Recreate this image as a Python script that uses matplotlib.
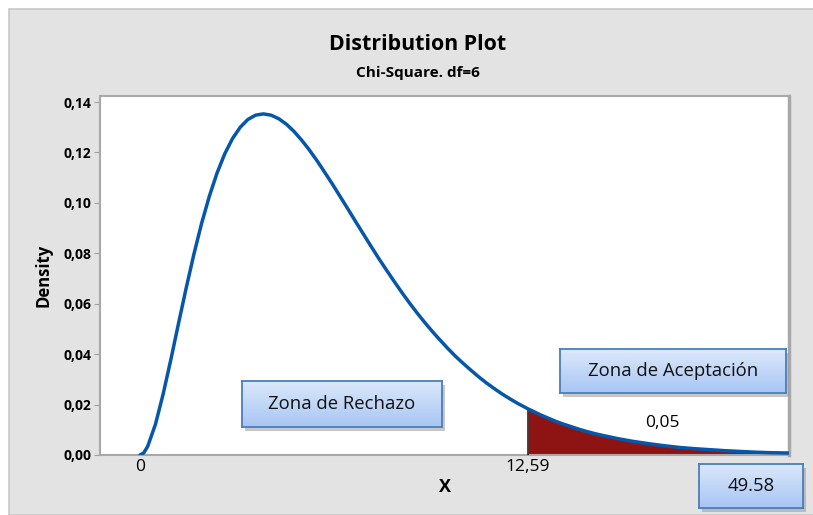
import matplotlib
matplotlib.use("Agg")
import matplotlib.pyplot as plt
import numpy as np
from matplotlib.patches import Rectangle
from matplotlib.ticker import FuncFormatter
from matplotlib.colors import LinearSegmentedColormap

plt.rcParams['font.family'] = ['Open Sans', 'DejaVu Sans']

# Density curve (Chi-Square, df=6)
x_vals = [0.0, 0.125, 0.25, 0.5, 0.75, 1.0, 1.25, 1.5, 1.75, 2.0, 2.25, 2.5, 2.75,
          3.0, 3.25, 3.5, 3.75, 4.0, 4.25, 4.5, 4.75, 5.0, 5.25, 5.5, 5.75,
          6.0, 6.25, 6.5, 6.75, 7.0, 7.25, 7.5, 7.75, 8.0, 8.25, 8.5, 8.75,
          9.0, 9.25, 9.5, 9.75, 10.0, 10.25, 10.5, 10.75, 11.0, 11.25, 11.5,
          11.75, 12.0, 12.25, 12.5, 12.59, 13.0, 13.25, 13.5, 13.75, 14.0,
          14.25, 14.5, 14.75, 15.0, 15.5, 16.0, 16.5, 17.0, 17.5, 18.0, 18.5,
          19.0, 19.5, 20.0, 20.5, 21.0, 21.5]
density = [0.0, 0.0009, 0.0035, 0.0122, 0.0242, 0.0379, 0.0523, 0.0664, 0.0798,
           0.0920, 0.1027, 0.1119, 0.1195, 0.1255, 0.1300, 0.1331, 0.1348,
           0.1353, 0.1348, 0.1334, 0.1312, 0.1283, 0.1248, 0.1209, 0.1166,
           0.1120, 0.1073, 0.1024, 0.0975, 0.0925, 0.0876, 0.0827, 0.0779,
           0.0733, 0.0688, 0.0644, 0.0602, 0.0562, 0.0524, 0.0488, 0.0454,
           0.0421, 0.0390, 0.0362, 0.0335, 0.0309, 0.0285, 0.0263, 0.0242,
           0.0223, 0.0205, 0.0189, 0.0183, 0.0159, 0.0146, 0.0133, 0.0122,
           0.0112, 0.0102, 0.0093, 0.0085, 0.0078, 0.0065, 0.0054, 0.0045,
           0.0037, 0.0030, 0.0025, 0.0021, 0.0017, 0.0014, 0.0011, 0.0009,
           0.0008, 0.0006]
critical = 12.59
tail_prob_label = "0,05"
x_ticks = [0, 12.59]
x_tick_labels = ["0", "12,59"]
y_ticks = [0.00, 0.02, 0.04, 0.06, 0.08, 0.10, 0.12, 0.14]

W, H = 813, 515
fig = plt.figure(figsize=(W / 100, H / 100), dpi=100)
fig.patch.set_facecolor('white')

# gray panel
fig.patches.append(Rectangle((9 / W, 0), 1.0, 1 - 9 / H, transform=fig.transFigure,
                             facecolor='#E3E3E3', edgecolor='#C8C8C8', linewidth=1.2,
                             zorder=-5))

def fx(px):
    return px / W

def fy(py):
    return 1 - py / H

ax = fig.add_axes([fx(100), fy(455), fx(789) - fx(100), fy(96) - fy(455)], zorder=1)
ax.set_facecolor('white')

xa = np.array(x_vals)
ya = np.array(density)
mask = xa >= critical
ax.fill_between(xa[mask], 0, ya[mask], color='#8E1414', linewidth=0, zorder=2)
ci = list(x_vals).index(critical)
ax.plot([critical, critical], [0, density[ci]], color='#3A2020', linewidth=1.2, zorder=3)
ax.plot(xa, ya, color='#0657AA', linewidth=2.5, zorder=4,
        solid_capstyle='round', solid_joinstyle='round')

ax.set_xlim(-1.30, 21.06)
ax.set_ylim(0, 0.1424)
ax.set_xticks(x_ticks)
ax.set_xticklabels(x_tick_labels, fontsize=12.5)
ax.set_yticks(y_ticks)
ax.yaxis.set_major_formatter(FuncFormatter(lambda v, p: f"{v:.2f}".replace('.', ',')))
for lab in ax.get_yticklabels():
    lab.set_fontweight('bold')
    lab.set_fontsize(10)
ax.tick_params(axis='y', length=4, color='#A0A0A0', pad=2)
ax.tick_params(axis='x', length=0, pad=3)
for s in ax.spines.values():
    s.set_color('#A8A8A8')
    s.set_linewidth(1.5)
ax.spines['right'].set_linewidth(2.5)

ax.set_ylabel("Density", fontsize=12, fontweight='bold', labelpad=8)
ax.set_xlabel("X", fontsize=13, fontweight='bold', labelpad=2)

ax.text(16.94, 0.0094, tail_prob_label, fontsize=12.5, ha='center', va='bottom', zorder=5)

fig.text(fx(418), fy(44), "Distribution Plot", fontsize=15.4, fontweight='bold',
         ha='center', va='center')
fig.text(fx(418), fy(73), "Chi-Square. df=6", fontsize=11, fontweight='bold',
         ha='center', va='center')

grad = np.linspace(0, 1, 64).reshape(-1, 1)
cmap = LinearSegmentedColormap.from_list('boxg', ['#DCE8FB', '#A8C6F4'])

def draw_box(l, t, r, b, text, fs=13.3):
    fig.patches.append(Rectangle((fx(l + 3), fy(b + 4)), fx(r) - fx(l), fy(t) - fy(b),
                                 transform=fig.transFigure, facecolor='#9A9A9A',
                                 edgecolor='none', alpha=0.55, zorder=8))
    bx = fig.add_axes([fx(l), fy(b), fx(r) - fx(l), fy(t) - fy(b)], zorder=10)
    bx.imshow(grad, aspect='auto', cmap=cmap, extent=[0, 1, 0, 1], origin='upper')
    bx.set_xlim(0, 1)
    bx.set_ylim(0, 1)
    bx.set_xticks([])
    bx.set_yticks([])
    for s in bx.spines.values():
        s.set_color('#4A7EBB')
        s.set_linewidth(1.3)
    bx.text(0.5, 0.5, text, fontsize=fs, ha='center', va='center', color='#111111')

draw_box(242, 381, 442, 427, "Zona de Rechazo")
draw_box(560, 349, 786, 393, "Zona de Aceptación")
draw_box(699, 464, 803, 508, "49.58")

fig.savefig("out.png", dpi=100)
